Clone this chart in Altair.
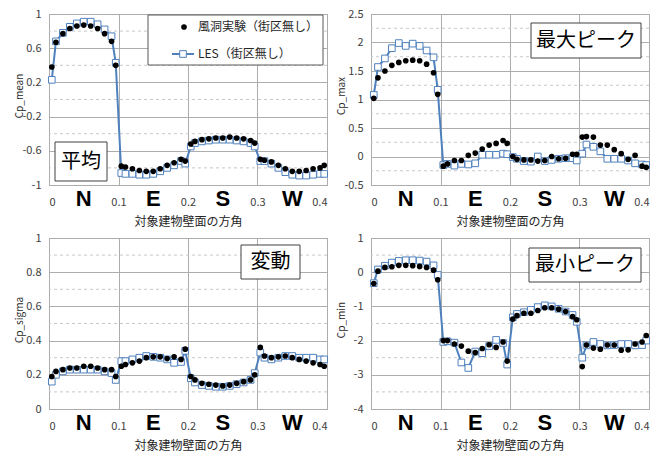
import altair as alt
import pandas as pd

# ---------------- data ----------------
series_names = ["風洞実験（街区無し）", "LES（街区無し）"]
face_offsets = [0.0, 0.1, 0.2, 0.3]
tap_positions = [0.004, 0.01, 0.02, 0.03, 0.04, 0.05, 0.06, 0.07, 0.08, 0.09, 0.096]
directions = ["N", "E", "S", "W"]
direction_x = [0.05, 0.15, 0.25, 0.35]
x_ticks = [0, 0.1, 0.2, 0.3, 0.4]
x_title = "対象建物壁面の方角"

mean_exp = [0.38, 0.67, 0.77, 0.83, 0.86, 0.87, 0.86, 0.83, 0.77, 0.68, 0.40,
            -0.78, -0.79, -0.81, -0.83, -0.84, -0.84, -0.81, -0.77, -0.74, -0.70, -0.72,
            -0.52, -0.49, -0.47, -0.46, -0.45, -0.45, -0.44, -0.45, -0.46, -0.48, -0.51,
            -0.70, -0.71, -0.73, -0.77, -0.81, -0.84, -0.84, -0.83, -0.81, -0.80, -0.77]
mean_les = [0.23, 0.68, 0.78, 0.85, 0.89, 0.91, 0.91, 0.88, 0.82, 0.74, 0.43,
            -0.86, -0.87, -0.87, -0.88, -0.88, -0.87, -0.84, -0.80, -0.77, -0.72, -0.75,
            -0.55, -0.51, -0.49, -0.48, -0.47, -0.47, -0.47, -0.48, -0.49, -0.51, -0.55,
            -0.72, -0.72, -0.75, -0.80, -0.85, -0.88, -0.89, -0.89, -0.88, -0.87, -0.87]

max_exp = [1.02, 1.38, 1.50, 1.60, 1.65, 1.68, 1.69, 1.68, 1.62, 1.47, 1.09,
           -0.17, -0.13, -0.07, -0.07, 0.02, 0.06, 0.13, 0.20, 0.23, 0.28, 0.23,
           0.00, -0.05, -0.06, -0.06, -0.08, -0.07, 0.00, -0.04, -0.03, 0.04, 0.04,
           0.34, 0.35, 0.34, 0.20, 0.20, 0.12, 0.05, -0.05, 0.02, -0.17, -0.19]
max_les = [1.08, 1.57, 1.72, 1.90, 1.99, 1.94, 1.98, 1.94, 1.86, 1.74, 1.17,
           -0.15, -0.13, -0.16, -0.13, -0.14, -0.12, 0.03, 0.03, 0.03, 0.05, 0.04,
           -0.01, -0.04, -0.08, -0.09, 0.00, -0.08, -0.06, -0.04, -0.03, -0.03, -0.07,
           0.05, 0.21, 0.17, 0.09, -0.04, -0.04, -0.04, -0.07, -0.12, -0.14, -0.15]

sigma_exp = [0.19, 0.22, 0.23, 0.24, 0.24, 0.25, 0.25, 0.24, 0.23, 0.23, 0.19,
             0.25, 0.26, 0.27, 0.28, 0.30, 0.305, 0.305, 0.295, 0.305, 0.29, 0.35,
             0.19, 0.17, 0.15, 0.145, 0.14, 0.135, 0.14, 0.15, 0.16, 0.17, 0.20,
             0.36, 0.31, 0.30, 0.305, 0.31, 0.30, 0.29, 0.28, 0.27, 0.26, 0.25]
sigma_les = [0.16, 0.20, 0.22, 0.23, 0.23, 0.23, 0.23, 0.23, 0.22, 0.21, 0.17,
             0.28, 0.28, 0.29, 0.30, 0.31, 0.305, 0.30, 0.29, 0.27, 0.275, 0.34,
             0.18, 0.155, 0.14, 0.135, 0.13, 0.13, 0.135, 0.145, 0.155, 0.17, 0.21,
             0.33, 0.30, 0.29, 0.30, 0.31, 0.31, 0.30, 0.30, 0.30, 0.29, 0.29]

min_exp = [-0.33, 0.03, 0.14, 0.16, 0.20, 0.20, 0.19, 0.17, 0.14, 0.06, -0.22,
           -2.00, -2.00, -2.10, -2.16, -2.31, -2.35, -2.23, -2.12, -2.20, -2.04, -2.60,
           -1.37, -1.27, -1.20, -1.20, -1.12, -1.04, -1.04, -1.08, -1.15, -1.30, -1.39,
           -2.76, -2.13, -2.22, -2.25, -2.13, -2.13, -2.28, -2.27, -2.10, -2.04, -1.85]
min_les = [-0.32, 0.08, 0.19, 0.28, 0.33, 0.35, 0.35, 0.34, 0.31, 0.20, -0.08,
           -2.04, -2.02, -2.06, -2.64, -2.80, -2.32, -2.37, -2.16, -1.98, -2.07, -2.70,
           -1.32, -1.22, -1.17, -1.10, -1.02, -0.97, -1.00, -1.07, -1.15, -1.25, -1.45,
           -2.50, -2.14, -2.04, -2.10, -2.14, -2.13, -2.10, -2.10, -2.14, -2.13, -2.00]

mean_major = [-1, -0.6, -0.2, 0.2, 0.6, 1]
mean_minor = [-0.8, -0.4, 0, 0.4, 0.8]
max_major = [-0.5, 0, 0.5, 1, 1.5, 2, 2.5]
max_minor = [-0.25, 0.25, 0.75, 1.25, 1.75, 2.25]
sigma_major = [0, 0.2, 0.4, 0.6, 0.8, 1]
sigma_minor = [0.1, 0.3, 0.5, 0.7, 0.9]
min_major = [-4, -3, -2, -1, 0, 1]
min_minor = [-3.5, -2.5, -1.5, -0.5, 0.5]

# ---------------- style ----------------
W, H = 278, 171
GRID = "#ADADAD"
MINOR = "#C8C8C8"
BLUE = "#4F81BD"
FONT = "Noto Sans CJK JP"
BOXLINE = "#404040"

x_pos = [f + t for f in face_offsets for t in tap_positions]


def make_panel(exp, les, ytitle, ydom, major, minor, tag, tag_box, legend=False):
    df = pd.DataFrame({"x": x_pos, "exp": exp, "les": les})
    xs = alt.Scale(domain=[0, 0.4], nice=False, zero=False)
    ys = alt.Scale(domain=ydom, nice=False, zero=False)
    xaxis = alt.Axis(values=x_ticks, grid=True, gridColor=GRID, ticks=False, domain=False,
                     labelExpr="toString(datum.value)", labelPadding=11,
                     title=x_title, titlePadding=9, titleFontSize=12)
    yaxis = alt.Axis(values=major, grid=True, gridColor=GRID, ticks=False, domain=False,
                     labelExpr="toString(datum.value)", labelPadding=8,
                     title=ytitle, titleX=-30, titleY=H / 2 - 4, titleBaseline="middle",
                     titleFontSize=10)
    X = alt.X("x:Q", scale=xs, axis=xaxis)
    base = alt.Chart(df)
    minor_rules = alt.Chart(pd.DataFrame({"v": minor})).mark_rule(
        color=MINOR, strokeDash=[3, 3], strokeWidth=1
    ).encode(y=alt.Y("v:Q", scale=ys, axis=yaxis))
    line = base.mark_line(color=BLUE, strokeWidth=2).encode(
        x=X, y=alt.Y("les:Q", scale=ys, axis=yaxis),
    )
    squares = base.mark_square(fill="white", stroke=BLUE, strokeWidth=1, size=44, opacity=1).encode(
        x=X, y=alt.Y("les:Q", scale=ys, axis=yaxis),
    )
    dots = base.mark_circle(color="black", size=32, opacity=1).encode(
        x=X, y=alt.Y("exp:Q", scale=ys, axis=yaxis),
    )
    letters = alt.Chart(pd.DataFrame({"d": directions, "x": direction_x})).mark_text(
        font="Liberation Sans", fontSize=22, fontWeight="bold", baseline="middle", color="black"
    ).encode(x=X, y=alt.value(H + 14), text="d:N")

    x1, y1, x2, y2 = tag_box
    tag_df = pd.DataFrame({"t": [tag]})
    tag_rect = alt.Chart(tag_df).mark_rect(fill="white", stroke=BOXLINE, strokeWidth=1).encode(
        x=alt.value(x1), x2=alt.value(x2), y=alt.value(y1), y2=alt.value(y2)
    )
    tag_text = alt.Chart(tag_df).mark_text(font=FONT, fontSize=20, color="black", baseline="middle").encode(
        x=alt.value((x1 + x2) / 2), y=alt.value((y1 + y2) / 2), text="t:N"
    )
    layers = [minor_rules, line, squares, dots, letters, tag_rect, tag_text]

    if legend:
        exp_df = pd.DataFrame({"name": [series_names[0]]})
        les_df = pd.DataFrame({"name": [series_names[1]]})
        leg_rect = alt.Chart(exp_df).mark_rect(fill="white", stroke="#595959", strokeWidth=1).encode(
            x=alt.value(99), x2=alt.value(274), y=alt.value(1), y2=alt.value(51)
        )
        leg_dot = alt.Chart(exp_df).mark_circle(color="black", size=32, opacity=1).encode(
            x=alt.value(135), y=alt.value(13)
        )
        leg_t1 = alt.Chart(exp_df).mark_text(font=FONT, fontSize=12, align="left", baseline="middle",
                                             color="#262626").encode(
            x=alt.value(149), y=alt.value(13), text="name:N"
        )
        leg_line = alt.Chart(les_df).mark_rule(color=BLUE, strokeWidth=2).encode(
            x=alt.value(123), x2=alt.value(145), y=alt.value(40)
        )
        leg_sq = alt.Chart(les_df).mark_square(fill="white", stroke=BLUE, strokeWidth=1, size=44,
                                               opacity=1).encode(x=alt.value(134), y=alt.value(40))
        leg_t2 = alt.Chart(les_df).mark_text(font=FONT, fontSize=12, align="left", baseline="middle",
                                             color="#262626").encode(
            x=alt.value(149), y=alt.value(40), text="name:N"
        )
        layers += [leg_rect, leg_dot, leg_t1, leg_line, leg_sq, leg_t2]

    return alt.layer(*layers).properties(width=W, height=H)


p1 = make_panel(mean_exp, mean_les, "Cp_mean", [-1, 1], mean_major, mean_minor,
                "平均", (6, 128, 58, 167), legend=True)
p2 = make_panel(max_exp, max_les, "Cp_max", [-0.5, 2.5], max_major, max_minor,
                "最大ピーク", (160, 9, 270, 44))
p3 = make_panel(sigma_exp, sigma_les, "Cp_sigma", [0, 1], sigma_major, sigma_minor,
                "変動", (192, 7, 251, 41))
p4 = make_panel(min_exp, min_les, "Cp_min", [-4, 1], min_major, min_minor,
                "最小ピーク", (158, 10, 270, 44))

chart = alt.concat(
    p1, p2, p3, p4, columns=2, spacing={"row": 53, "column": 44}, bounds="flush"
).properties(
    padding={"left": 13, "top": 7, "right": 0, "bottom": 0}
).configure_view(
    stroke="#A6A6A6"
).configure_axis(
    labelFont=FONT, titleFont=FONT, labelFontSize=11, labelColor="#404040",
    titleColor="#262626", titleFontWeight="normal"
)

chart.save("out.html", embed_options={"renderer": "svg", "actions": False})
